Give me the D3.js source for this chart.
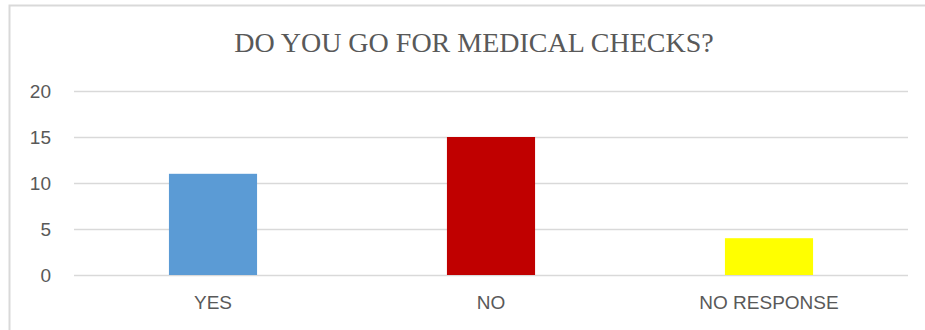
<!DOCTYPE html>
<html>
<head>
<meta charset="utf-8">
<script src="https://cdn.jsdelivr.net/npm/d3@7/dist/d3.min.js"></script>
<style>
  html, body { margin: 0; padding: 0; background: #fff; }
  svg { display: block; }
</style>
</head>
<body>
<svg id="chart" width="925" height="330"></svg>
<script>
// Survey answers: "Do you go for medical checks?"
const categories = ["YES", "NO", "NO RESPONSE"];
const counts = [11, 15, 4];
const barColors = ["#5B9BD5", "#C00000", "#FFFF00"];
const yTicks = [0, 5, 10, 15, 20];
const titleText = "DO YOU GO FOR MEDICAL CHECKS?";

const svg = d3.select("#chart");

// Chart frame (only its top and left edges fall inside the view)
svg.append("rect")
  .attr("x", 9.5).attr("y", 5.5)
  .attr("width", 940).attr("height", 340)
  .attr("fill", "#fff")
  .attr("stroke", "#D9D9D9")
  .attr("stroke-width", 2);

const plot = { left: 74, right: 908, top: 91, bottom: 275 };

const x = d3.scaleBand()
  .domain(categories)
  .range([plot.left, plot.right])
  .paddingInner(0.683)
  .paddingOuter(0.3415);

const y = d3.scaleLinear()
  .domain([0, 20])
  .range([plot.bottom, plot.top]);

// Horizontal gridlines with value labels
const yAxis = d3.axisLeft(y)
  .tickValues(yTicks)
  .tickSize(-(plot.right - plot.left))
  .tickPadding(23)
  .tickFormat(d3.format("d"));

const gy = svg.append("g")
  .attr("transform", `translate(${plot.left},0)`)
  .call(yAxis);
gy.select(".domain").remove();
gy.selectAll(".tick line")
  .attr("stroke", "#D9D9D9")
  .attr("stroke-width", 1.5);
gy.selectAll(".tick text")
  .attr("fill", "#595959")
  .attr("font-family", "'Liberation Sans', Arial, sans-serif")
  .attr("font-size", 19);

// Bars
svg.append("g")
  .selectAll("rect")
  .data(categories)
  .join("rect")
  .attr("x", d => x(d))
  .attr("width", x.bandwidth())
  .attr("y", (d, i) => y(counts[i]))
  .attr("height", (d, i) => y(0) - y(counts[i]))
  .attr("fill", (d, i) => barColors[i]);

// Category labels
const xAxis = d3.axisBottom(x).tickSize(0).tickPadding(21);
const gx = svg.append("g")
  .attr("transform", `translate(0,${plot.bottom})`)
  .call(xAxis);
gx.select(".domain").remove();
gx.selectAll(".tick text")
  .attr("fill", "#595959")
  .attr("font-family", "'Liberation Sans', Arial, sans-serif")
  .attr("font-size", 19);

// Title
svg.append("text")
  .attr("x", 474)
  .attr("y", 52)
  .attr("text-anchor", "middle")
  .attr("fill", "#595959")
  .attr("font-family", "'Liberation Serif', 'Times New Roman', serif")
  .attr("font-size", 28)
  .text(titleText);
</script>
</body>
</html>
